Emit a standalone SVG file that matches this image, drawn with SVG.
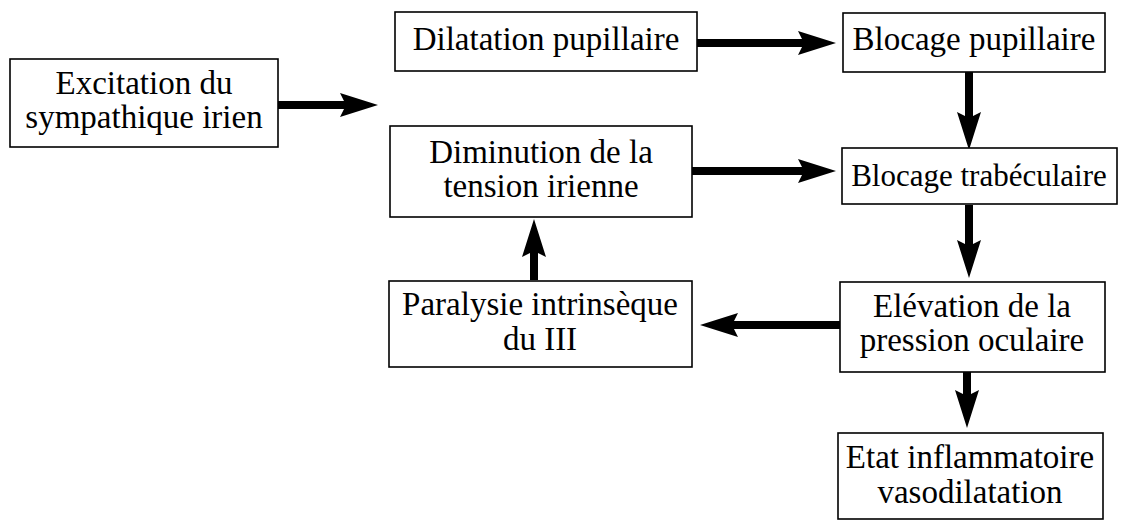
<svg xmlns="http://www.w3.org/2000/svg" width="1125" height="521" viewBox="0 0 1125 521">
<style>
.box{fill:#fff;stroke:#000;stroke-width:1.6}
.t{font-family:"Liberation Serif","DejaVu Serif",serif;font-size:33px;fill:#000;text-anchor:middle}
.c{stroke:#000;stroke-width:8;fill:none}
</style>
<defs>
<marker id="ah" markerUnits="userSpaceOnUse" markerWidth="40" markerHeight="26" refX="6" refY="12" orient="auto" overflow="visible">
<path d="M0,0 L38,12 L0,24 L6,12 Z" fill="#000"/>
</marker>
</defs>
<rect width="1125" height="521" fill="#fff"/>
<g id="connectors">
<line class="c" x1="278" y1="105" x2="346" y2="105" marker-end="url(#ah)"/>
<line class="c" x1="697" y1="43" x2="804" y2="43" marker-end="url(#ah)"/>
<line class="c" x1="692" y1="171" x2="804" y2="171" marker-end="url(#ah)"/>
<line class="c" x1="969" y1="72" x2="969" y2="118" marker-end="url(#ah)"/>
<line class="c" x1="969" y1="205" x2="969" y2="246" marker-end="url(#ah)"/>
<line class="c" x1="967" y1="372" x2="967" y2="396" marker-end="url(#ah)"/>
<line class="c" x1="840" y1="325" x2="732" y2="325" marker-end="url(#ah)"/>
<line class="c" x1="534" y1="280" x2="534" y2="251" marker-end="url(#ah)"/>
</g>
<g id="excitation">
<rect class="box" x="10" y="59" width="268" height="88"/>
<text class="t" x="144" y="94">Excitation du</text>
<text class="t" x="144" y="128">sympathique irien</text>
</g>
<g id="dilatation">
<rect class="box" x="395" y="12" width="302" height="59"/>
<text class="t" x="546" y="50">Dilatation pupillaire</text>
</g>
<g id="blocage-pupillaire">
<rect class="box" x="843" y="13" width="262" height="59"/>
<text class="t" x="974" y="50">Blocage pupillaire</text>
</g>
<g id="diminution">
<rect class="box" x="390" y="126" width="302" height="91"/>
<text class="t" x="541" y="163">Diminution de la</text>
<text class="t" x="541" y="197">tension irienne</text>
</g>
<g id="blocage-trabeculaire">
<rect class="box" x="842" y="148" width="275" height="56"/>
<text class="t" x="979" y="186" style="font-size:31px">Blocage trabéculaire</text>
</g>
<g id="paralysie">
<rect class="box" x="389" y="281" width="303" height="86"/>
<text class="t" x="540" y="315">Paralysie intrinsèque</text>
<text class="t" x="540" y="350">du III</text>
</g>
<g id="elevation">
<rect class="box" x="840" y="282" width="265" height="90"/>
<text class="t" x="972" y="317">Elévation de la</text>
<text class="t" x="972" y="351">pression oculaire</text>
</g>
<g id="etat">
<rect class="box" x="838" y="433" width="265" height="86"/>
<text class="t" x="970" y="468">Etat inflammatoire</text>
<text class="t" x="970" y="503">vasodilatation</text>
</g>
</svg>
